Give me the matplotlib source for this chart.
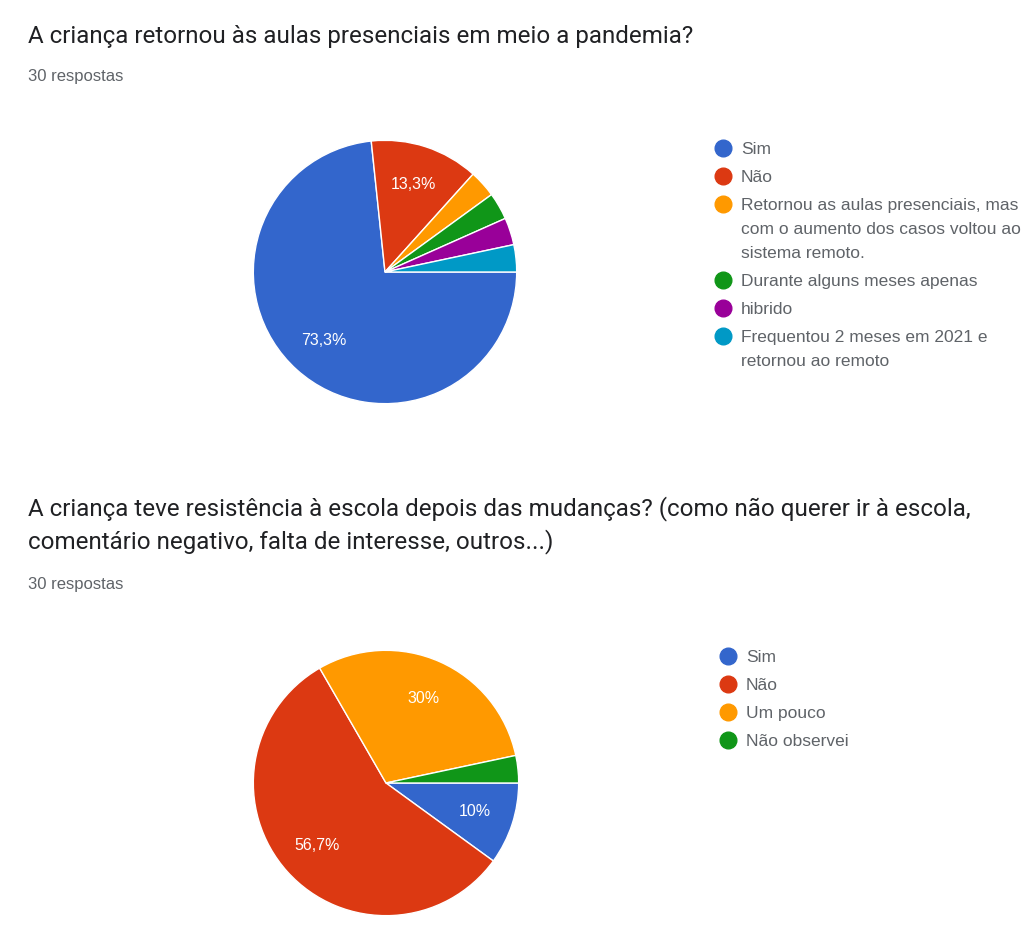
import matplotlib.pyplot as plt
from matplotlib.lines import Line2D

W, H = 1030, 940

# dados do formulário (30 respostas cada)
q1_title = "A criança retornou às aulas presenciais em meio a pandemia?"
q1_labels = ["Sim", "Não",
             "Retornou as aulas presenciais, mas\ncom o aumento dos casos voltou ao\nsistema remoto.",
             "Durante alguns meses apenas", "hibrido",
             "Frequentou 2 meses em 2021 e\nretornou ao remoto"]
q1_counts = [22, 4, 1, 1, 1, 1]

q2_title = ("A criança teve resistência à escola depois das mudanças? (como não querer ir à escola,\n"
            "comentário negativo, falta de interesse, outros...)")
q2_labels = ["Sim", "Não", "Um pouco", "Não observei"]
q2_counts = [3, 17, 9, 1]

n_respostas = "30 respostas"

cores = ["#3366cc", "#dc3912", "#ff9900", "#109618", "#990099", "#0099c6"]

TITLE_FONT = ["Roboto", "DejaVu Sans"]
BODY_FONT = ["Liberation Sans", "DejaVu Sans"]


def fx(x):
    return x / W


def fy(y):
    return 1 - y / H


def pct_label(p):
    if p < 5:
        return ""
    s = f"{p:.1f}".rstrip("0").rstrip(".")
    return s.replace(".", ",") + "%"


def draw_pie(fig, counts, cx, cy, r):
    ax = fig.add_axes([fx(cx - r), fy(cy + r), 2 * r / W, 2 * r / H])
    ax.pie(counts, colors=cores[:len(counts)], startangle=0, counterclock=False,
           autopct=pct_label, pctdistance=0.7,
           wedgeprops=dict(edgecolor="white", linewidth=1),
           textprops=dict(color="white", fontsize=11.5, family=BODY_FONT))
    ax.set_xlim(-1.01, 1.01)
    ax.set_ylim(-1.01, 1.01)
    ax.axis("off")
    return ax


def draw_legend(fig, labels, x, y, step=28, wrap=24):
    for i, lab in enumerate(labels):
        fig.add_artist(Line2D([fx(x)], [fy(y)], marker="o", markersize=12,
                              color=cores[i], linestyle="none",
                              transform=fig.transFigure))
        # uma linha de cada vez, para alinhar a primeira com o marcador
        for j, linha in enumerate(lab.split("\n")):
            fig.text(fx(x + 18), fy(y + 6 + j * wrap), linha, fontsize=12.5,
                     color="#5f6368", family=BODY_FONT, va="baseline",
                     ha="left", transform=fig.transFigure)
        y += step + wrap * lab.count("\n")


fig = plt.figure(figsize=(W / 100, H / 100), dpi=100)

# primeira pergunta
fig.text(fx(28), fy(37), q1_title, fontsize=17.4, color="#202124",
         family=TITLE_FONT, va="center")
fig.text(fx(28), fy(77), n_respostas, fontsize=12, color="#5f6368",
         family=BODY_FONT, va="center")
draw_pie(fig, q1_counts, 385, 272, 133)
draw_legend(fig, q1_labels, 723, 148)

# segunda pergunta
fig.text(fx(28), fy(525), q2_title, fontsize=17.4, color="#202124",
         family=TITLE_FONT, va="center", linespacing=1.45)
fig.text(fx(28), fy(585), n_respostas, fontsize=12, color="#5f6368",
         family=BODY_FONT, va="center")
draw_pie(fig, q2_counts, 386, 783, 134)
draw_legend(fig, q2_labels, 728, 656)

fig.savefig("out.png", dpi=100, facecolor="white")
